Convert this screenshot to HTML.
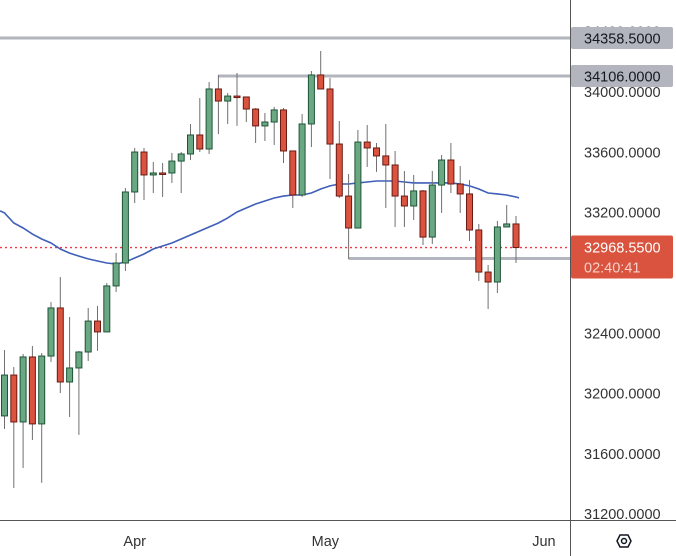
<!DOCTYPE html>
<html><head><meta charset="utf-8">
<style>
html,body{margin:0;padding:0;background:#fff;}
svg{display:block;font-family:"Liberation Sans",sans-serif;}
</style></head>
<body>
<svg id="chart" width="676" height="556" viewBox="0 0 676 556" xmlns="http://www.w3.org/2000/svg">
<rect x="0" y="0" width="676" height="556" fill="#fff"/>
<g id="levels"></g>
<g id="ma"></g>
<g id="candles"></g>
<g id="axis"></g>
</svg>
<script>
const opens  =[31852,32123,31812,32243,31799,32249,32568,32077,32170,32276,32481,32409,32714,32866,33337,33602,33450,33463,33463,33542,33589,33715,33622,34020,33940,33973,33967,33887,33775,33801,33881,33609,33317,33788,34113,34020,33655,33310,33098,33668,33629,33576,33516,33310,33244,33344,33038,33383,33549,33390,33324,33085,32806,32740,33105,33125];
const highs  =[32289,32176,32263,32316,32269,32607,32773,32508,32283,32568,32581,32733,32932,33363,33629,33629,33536,33529,33596,33602,33788,33960,34066,34113,33993,34126,33967,33894,33861,33901,33894,33609,33854,34139,34272,34093,33808,33456,33748,33781,33662,33788,33609,33476,33450,33350,33476,33582,33662,33509,33416,33125,32853,33145,33251,33178];
const lows   =[31765,31374,31507,31692,31408,32210,32004,31845,31726,32216,32283,32409,32674,32813,33264,33284,33330,33304,33397,33330,33549,33602,33589,33721,33788,33775,33801,33662,33675,33649,33529,33231,33304,33635,34020,33423,33297,32893,33098,33503,33470,33231,33105,33105,33151,32985,32992,33198,33330,33198,33012,32747,32561,32667,33105,32866];
const closes =[32123,31812,32243,31799,32249,32568,32077,32170,32276,32481,32409,32714,32866,33337,33602,33450,33463,33456,33542,33589,33715,33622,34020,33940,33973,33967,33887,33775,33801,33881,33609,33317,33788,34113,34020,33655,33310,33098,33668,33629,33576,33516,33310,33244,33344,33038,33383,33549,33390,33324,33085,32806,32740,33105,33125,32968.55];
const maValues=[33198,33131,33098,33058,33025,32999,32959,32932,32912,32893,32879,32866,32859,32873,32899,32926,32959,32979,32999,33025,33052,33078,33105,33131,33165,33204,33231,33257,33277,33297,33310,33317,33317,33330,33357,33377,33390,33390,33397,33403,33410,33410,33410,33403,33397,33397,33397,33397,33397,33390,33377,33357,33330,33324,33317,33304];
const yTicks=[34400,34000,33600,33200,32800,32400,32000,31600,31200];
const xLabels=["Apr","May","Jun"];
const xLabelIdx=[14,34.5,58];
const levelPrices=[34358.5,34106,32896];
const levelStartIdx=[-1,23,37];
const lastPrice=32968.55;
const countdown="02:40:41";

const NS="http://www.w3.org/2000/svg";
const plotRight=570, plotBottom=520;
function y(p){return 92+(34000-p)*0.1508;}
function x(i){return 4.5+9.3*i;}
function mk(tag,attrs,parent,txt){const e=document.createElementNS(NS,tag);for(const k in attrs)e.setAttribute(k,attrs[k]);if(txt!==undefined)e.textContent=txt;parent.appendChild(e);return e;}
const gL=document.getElementById('levels'),gM=document.getElementById('ma'),gC=document.getElementById('candles'),gA=document.getElementById('axis');

levelPrices.forEach((p,k)=>{
  const x0=levelStartIdx[k]<0?0:x(levelStartIdx[k]);
  const l=mk('line',{x1:x0,x2:plotRight,y1:y(p),y2:y(p),stroke:'#b2b5be','stroke-width':3},gL);
  
  
});
const dl=mk('line',{x1:0,x2:plotRight,y1:y(lastPrice),y2:y(lastPrice),stroke:'#f23645','stroke-width':1.3,'stroke-dasharray':'2,3'},gL);



let d='M0 '+(y(maValues[0])-2).toFixed(1);
maValues.forEach((v,i)=>{d+='L'+x(i).toFixed(1)+' '+y(v).toFixed(1);});
d+='L'+(x(maValues.length-1)+3).toFixed(1)+' '+y(maValues[maValues.length-1]-6).toFixed(1);
const ma=mk('path',{d:d,fill:'none',stroke:'#3f5fb8','stroke-width':1.6},gM);



opens.forEach((o,i)=>{
  const c=closes[i],h=highs[i],l=lows[i],up=c>=o;
  const cx=x(i);
  const g=mk('g',{},gC);
  
  
  mk('line',{x1:cx,x2:cx,y1:y(h),y2:y(l),stroke:'#707070','stroke-width':1},g);
  const top=y(Math.max(o,c)),bh=Math.max(1.5,y(Math.min(o,c))-top);
  mk('rect',{x:cx-3,y:top,width:6,height:bh,fill:up?'#6aa884':'#d9533f',stroke:up?'#1f5436':'#6b1a14','stroke-width':1},g);
});

const ax=mk('line',{x1:plotRight+0.5,x2:plotRight+0.5,y1:0,y2:556,stroke:'#555','stroke-width':1},gA);

const bx=mk('line',{x1:0,x2:676,y1:plotBottom+0.5,y2:plotBottom+0.5,stroke:'#555','stroke-width':1},gA);

yTicks.forEach(t=>{
  const tx=mk('text',{x:584,y:y(t)+5,'font-size':14.5,fill:'#333'},gA,t.toFixed(4));
  
  
});
levelPrices.forEach((p,k)=>{
  const g=mk('g',{},gA);
  
  
  mk('rect',{x:plotRight+1,y:y(p)-11,width:102,height:22,rx:2,fill:'#b2b5be'},g);
  mk('text',{x:584,y:y(p)+5.5,'font-size':14.5,fill:'#131722'},g,p.toFixed(4));
});
const lg=mk('g',{},gA);


mk('rect',{x:plotRight+1,y:y(lastPrice)-12,width:102,height:43,rx:2,fill:'#d9533f'},lg);
mk('text',{x:584,y:y(lastPrice)+5,'font-size':14.5,fill:'#fff'},lg,lastPrice.toFixed(4));
mk('text',{x:584,y:y(lastPrice)+25,'font-size':14.5,fill:'#f7d0ca'},lg,countdown);
xLabels.forEach((s,k)=>{
  const t=mk('text',{x:x(xLabelIdx[k]),y:546,'font-size':14.5,fill:'#333','text-anchor':'middle'},gA,s);
  
  
});
const gear=mk('g',{},gA);


mk('polygon',{points:'617,541 620,535 628,535 631,541 628,547 620,547',fill:'none',stroke:'#131722','stroke-width':1.5},gear);
mk('circle',{cx:624,cy:541,r:2.5,fill:'none',stroke:'#131722','stroke-width':1.5},gear);
</script>
</body></html>
